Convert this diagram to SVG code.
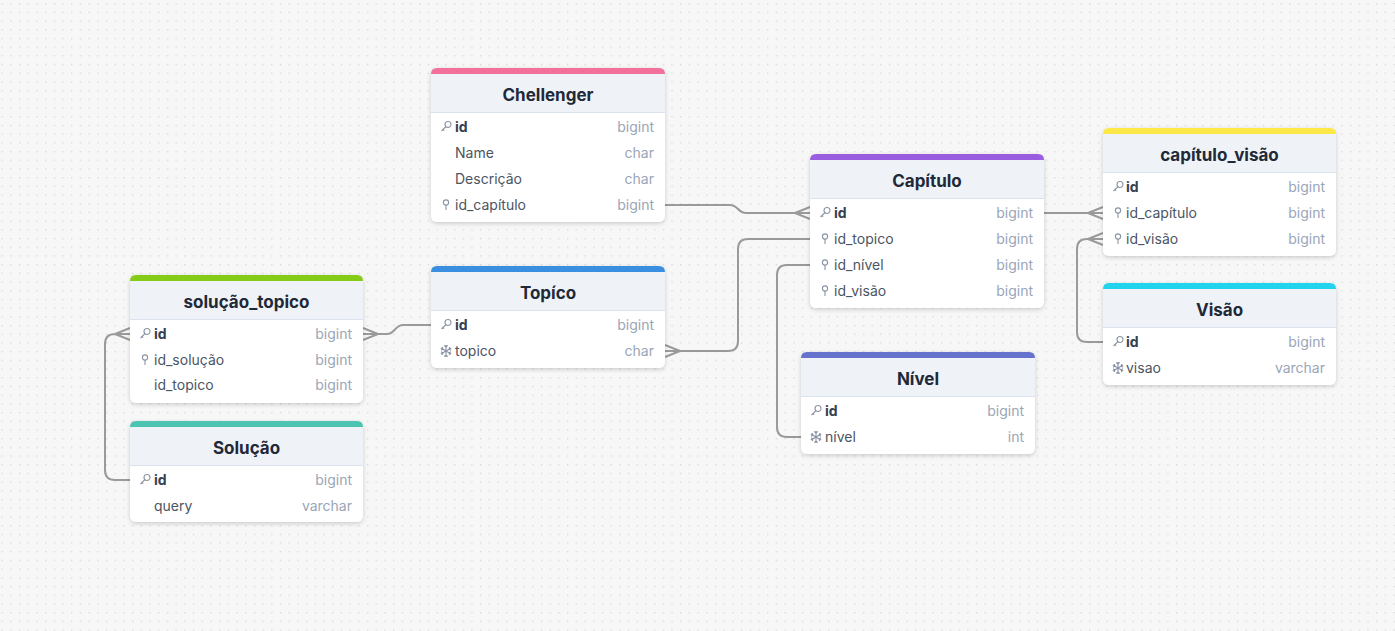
<svg xmlns="http://www.w3.org/2000/svg" width="1395" height="631" viewBox="0 0 1395 631">
<defs>
<pattern id="dots" x="1.5" y="3" width="8.7" height="8.7" patternUnits="userSpaceOnUse">
<rect x="0" y="0" width="1.3" height="1.3" fill="#d6d6d6"/>
</pattern>
<filter id="sh" x="-10%" y="-10%" width="120%" height="130%">
<feDropShadow dx="0" dy="1.5" stdDeviation="2" flood-color="#000" flood-opacity="0.18"/>
</filter>
<g id="key"><circle cx="7" cy="-2.5" r="3" fill="none" stroke="#8a93a3" stroke-width="1.1"/><path d="M4.9,-0.4 L0.5,4 M2,2.5 L3.2,3.7" fill="none" stroke="#8a93a3" stroke-width="1.1"/></g>
<g id="pin"><circle cx="5" cy="-2.5" r="2.6" fill="none" stroke="#8a93a3" stroke-width="1.1"/><path d="M5,0.1 V5" fill="none" stroke="#8a93a3" stroke-width="1.1"/></g>
<g id="snow" stroke="#8a93a3" stroke-width="1.1" fill="none"><path d="M6,-6 V6 M0.8,-3 L11.2,3 M0.8,3 L11.2,-3 M4.3,-5.6 L6,-3.9 L7.7,-5.6 M4.3,5.6 L6,3.9 L7.7,5.6 M1,-0.8 L2.9,-1.8 L2.4,-4 M11,-0.8 L9.1,-1.8 L9.6,-4 M1,0.8 L2.9,1.8 L2.4,4 M11,0.8 L9.1,1.8 L9.6,4"/></g>
</defs>
<style>
.card{fill:#ffffff;filter:url(#sh)}
.hdr{fill:#eff3f8}
.hline{stroke:#dbe3ee;stroke-width:1}
.title{font-family:Inter,"Noto Sans",sans-serif;font-size:17px;font-weight:700;fill:#1f2937;text-anchor:middle}
.fld{font-family:Inter,"Noto Sans",sans-serif;font-size:14px;fill:#4b5563}
.pk{font-weight:700;fill:#374151}
.typ{font-family:Inter,"Noto Sans",sans-serif;font-size:14px;fill:#9aa5b8;text-anchor:end}
.conn{fill:none;stroke:#9a9a9a;stroke-width:2}
</style>
<rect width="1395" height="631" fill="#f7f7f7"/>
<rect width="1395" height="631" fill="url(#dots)"/>

<g id="connectors">
<path class="conn" d="M665,205 H730 C738,205 738,213 746,213 H810 M795,213 L810,207 M795,213 L810,219"/>
<path class="conn" d="M1043,213 H1103 M1088,213 L1103,207 M1088,213 L1103,219"/>
<path class="conn" d="M1103,342 H1087 Q1077,342 1077,332 V249 Q1077,239 1087,239 H1103 M1088,239 L1103,233 M1088,239 L1103,245"/>
<path class="conn" d="M665,351 H728 Q738,351 738,341 V249 Q738,239 748,239 H810 M680,351 L665,345 M680,351 L665,357"/>
<path class="conn" d="M810,265 H787 Q777,265 777,275 V427 Q777,437 787,437 H801"/>
<path class="conn" d="M431,325 H403 C395,325 395,334 387,334 H363 M378,334 L363,328 M378,334 L363,340"/>
<path class="conn" d="M130,480 H115 Q105,480 105,470 V344 Q105,334 115,334 H130 M115,334 L130,328 M115,334 L130,340"/>
</g>

<g id="chellenger" transform="translate(431,68)">
<rect class="card" x="0" y="0" width="234" height="154" rx="6"/>
<path class="hdr" d="M0,44 V6 Q0,0 6,0 H228 Q234,0 234,6 V44 Z"/>
<path d="M0,6 Q0,0 6,0 H228 Q234,0 234,6 Z" fill="#f2719b"/>
<line class="hline" x1="0" y1="44.5" x2="234" y2="44.5"/>
<text class="title" x="117" y="33">Chellenger</text>
<use href="#key" x="10" y="59"/><text class="fld pk" x="24" y="64">id</text><text class="typ" x="223" y="64">bigint</text>
<text class="fld" x="24" y="90">Name</text><text class="typ" x="223" y="90">char</text>
<text class="fld" x="24" y="116">Descrição</text><text class="typ" x="223" y="116">char</text>
<use href="#pin" x="10" y="137"/><text class="fld" x="24" y="142">id_capítulo</text><text class="typ" x="223" y="142">bigint</text>
</g>

<g id="topico" transform="translate(431,266)">
<rect class="card" x="0" y="0" width="234" height="102" rx="6"/>
<path class="hdr" d="M0,44 V6 Q0,0 6,0 H228 Q234,0 234,6 V44 Z"/>
<path d="M0,6 Q0,0 6,0 H228 Q234,0 234,6 Z" fill="#3b8fe0"/>
<line class="hline" x1="0" y1="44.5" x2="234" y2="44.5"/>
<text class="title" x="117" y="33">Topíco</text>
<use href="#key" x="10" y="59"/><text class="fld pk" x="24" y="64">id</text><text class="typ" x="223" y="64">bigint</text>
<use href="#snow" x="9" y="85"/><text class="fld" x="24" y="90">topico</text><text class="typ" x="223" y="90">char</text>
</g>

<g id="capitulo" transform="translate(810,154)">
<rect class="card" x="0" y="0" width="234" height="154" rx="6"/>
<path class="hdr" d="M0,44 V6 Q0,0 6,0 H228 Q234,0 234,6 V44 Z"/>
<path d="M0,6 Q0,0 6,0 H228 Q234,0 234,6 Z" fill="#9b5de0"/>
<line class="hline" x1="0" y1="44.5" x2="234" y2="44.5"/>
<text class="title" x="117" y="33">Capítulo</text>
<use href="#key" x="10" y="59"/><text class="fld pk" x="24" y="64">id</text><text class="typ" x="223" y="64">bigint</text>
<use href="#pin" x="10" y="85"/><text class="fld" x="24" y="90">id_topico</text><text class="typ" x="223" y="90">bigint</text>
<use href="#pin" x="10" y="111"/><text class="fld" x="24" y="116">id_nível</text><text class="typ" x="223" y="116">bigint</text>
<use href="#pin" x="10" y="137"/><text class="fld" x="24" y="142">id_visão</text><text class="typ" x="223" y="142">bigint</text>
</g>

<g id="capitulo_visao" transform="translate(1103,128)">
<rect class="card" x="0" y="0" width="233" height="128" rx="6"/>
<path class="hdr" d="M0,44 V6 Q0,0 6,0 H227 Q233,0 233,6 V44 Z"/>
<path d="M0,6 Q0,0 6,0 H227 Q233,0 233,6 Z" fill="#fde84a"/>
<line class="hline" x1="0" y1="44.5" x2="233" y2="44.5"/>
<text class="title" x="116.5" y="33">capítulo_visão</text>
<use href="#key" x="10" y="59"/><text class="fld pk" x="23" y="64">id</text><text class="typ" x="222" y="64">bigint</text>
<use href="#pin" x="10" y="85"/><text class="fld" x="23" y="90">id_capítulo</text><text class="typ" x="222" y="90">bigint</text>
<use href="#pin" x="10" y="111"/><text class="fld" x="23" y="116">id_visão</text><text class="typ" x="222" y="116">bigint</text>
</g>

<g id="visao" transform="translate(1103,283)">
<rect class="card" x="0" y="0" width="233" height="102" rx="6"/>
<path class="hdr" d="M0,44 V6 Q0,0 6,0 H227 Q233,0 233,6 V44 Z"/>
<path d="M0,6 Q0,0 6,0 H227 Q233,0 233,6 Z" fill="#22d3ee"/>
<line class="hline" x1="0" y1="44.5" x2="233" y2="44.5"/>
<text class="title" x="116.5" y="33">Visão</text>
<use href="#key" x="10" y="59"/><text class="fld pk" x="23" y="64">id</text><text class="typ" x="222" y="64">bigint</text>
<use href="#snow" x="9" y="85"/><text class="fld" x="23" y="90">visao</text><text class="typ" x="222" y="90">varchar</text>
</g>

<g id="nivel" transform="translate(801,352)">
<rect class="card" x="0" y="0" width="234" height="102" rx="6"/>
<path class="hdr" d="M0,44 V6 Q0,0 6,0 H228 Q234,0 234,6 V44 Z"/>
<path d="M0,6 Q0,0 6,0 H228 Q234,0 234,6 Z" fill="#6673cc"/>
<line class="hline" x1="0" y1="44.5" x2="234" y2="44.5"/>
<text class="title" x="117" y="33">Nível</text>
<use href="#key" x="10" y="59"/><text class="fld pk" x="24" y="64">id</text><text class="typ" x="223" y="64">bigint</text>
<use href="#snow" x="9" y="85"/><text class="fld" x="24" y="90">nível</text><text class="typ" x="223" y="90">int</text>
</g>

<g id="solucao_topico" transform="translate(130,275)">
<rect class="card" x="0" y="0" width="233" height="128" rx="6"/>
<path class="hdr" d="M0,44 V6 Q0,0 6,0 H227 Q233,0 233,6 V44 Z"/>
<path d="M0,6 Q0,0 6,0 H227 Q233,0 233,6 Z" fill="#84cc16"/>
<line class="hline" x1="0" y1="44.5" x2="233" y2="44.5"/>
<text class="title" x="116.5" y="33">solução_topico</text>
<use href="#key" x="10" y="59"/><text class="fld pk" x="24" y="64">id</text><text class="typ" x="222" y="64">bigint</text>
<use href="#pin" x="10" y="85"/><text class="fld" x="24" y="90">id_solução</text><text class="typ" x="222" y="90">bigint</text>
<text class="fld" x="24" y="115">id_topico</text><text class="typ" x="222" y="115">bigint</text>
</g>

<g id="solucao" transform="translate(130,421)">
<rect class="card" x="0" y="0" width="233" height="101" rx="6"/>
<path class="hdr" d="M0,44 V6 Q0,0 6,0 H227 Q233,0 233,6 V44 Z"/>
<path d="M0,6 Q0,0 6,0 H227 Q233,0 233,6 Z" fill="#4dc4b2"/>
<line class="hline" x1="0" y1="44.5" x2="233" y2="44.5"/>
<text class="title" x="116.5" y="33">Solução</text>
<use href="#key" x="10" y="59"/><text class="fld pk" x="24" y="64">id</text><text class="typ" x="222" y="64">bigint</text>
<text class="fld" x="24" y="90">query</text><text class="typ" x="222" y="90">varchar</text>
</g>
</svg>
